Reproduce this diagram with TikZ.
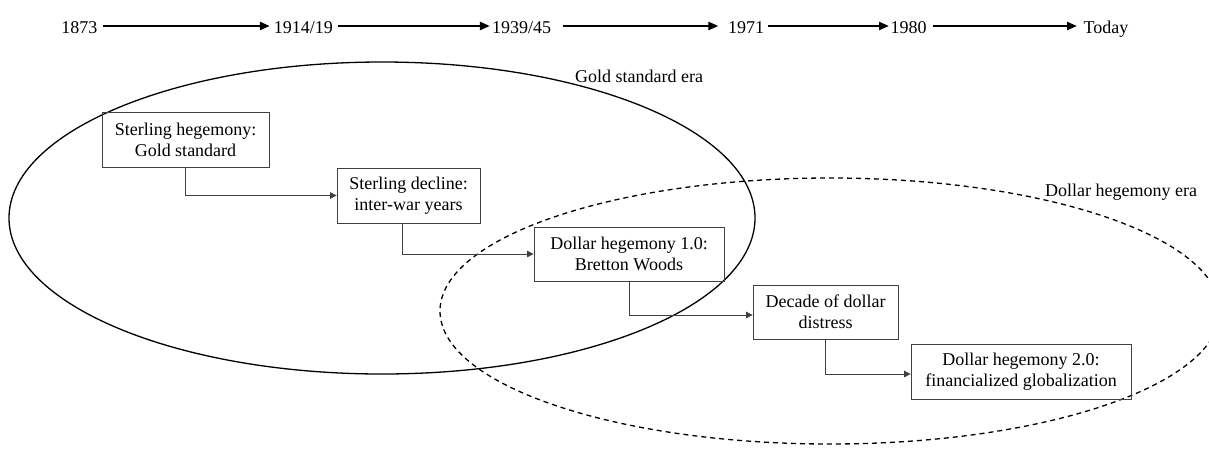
\documentclass[tikz,border=0pt]{standalone}
\usepackage{fontspec}
\setmainfont{Liberation Serif}
\usetikzlibrary{arrows.meta}
\begin{document}
\begin{tikzpicture}[x=1pt, y=-1pt,
  every node/.style={font=\fontsize{18}{20.7}\selectfont},
  yearlabel/.style={inner sep=0pt, anchor=base west},
  eralabel/.style={inner sep=0pt, anchor=base west},
  timeline/.style={line width=2.4pt, -{Triangle[length=10pt,width=8pt]}},
  stagebox/.style={draw=black!75, line width=0.8pt, align=center, inner sep=2pt},
  link/.style={draw=black!75, line width=0.8pt, -{Triangle[length=6.5pt,width=6.5pt]}},
  era/.style={line width=1.3pt},
]
\useasboundingbox (0,0) rectangle (1209,448);
\clip (0,0) rectangle (1209,448);

% era ellipses
\draw[era] (382,218) ellipse [x radius=373pt, y radius=156pt];
\draw[era, dash pattern=on 5pt off 4pt] (830,311) ellipse [x radius=390pt, y radius=133pt];

\node[eralabel] (gold) at (575,82) {Gold standard era};
\node[eralabel] (dollar) at (1045,196) {Dollar hegemony era};

% timeline
\coordinate (tl) at (0,26);
\node[yearlabel] (t1) at (61.2,33.5) {1873};
\node[yearlabel] (t2) at (273.6,33.5) {1914/19};
\node[yearlabel] (t3) at (491.8,33.5) {1939/45};
\node[yearlabel] (t4) at (728,33.5) {1971};
\node[yearlabel] (t5) at (890.5,33.5) {1980};
\node[yearlabel] (t6) at (1083.5,33.5) {Today};

\draw[timeline, shorten <=5.4pt, shorten >=3.8pt] (t1.east |- tl) -- (t2.west |- tl);
\draw[timeline, shorten <=5.4pt, shorten >=1.9pt] (t2.east |- tl) -- (t3.west |- tl);
\draw[timeline, shorten <=11.8pt, shorten >=9.6pt] (t3.east |- tl) -- (t4.west |- tl);
\draw[timeline, shorten <=3.8pt, shorten >=1.5pt] (t4.east |- tl) -- (t5.west |- tl);
\draw[timeline, shorten <=6.3pt, shorten >=6.5pt] (t5.east |- tl) -- (t6.west |- tl);

% stages
\node[stagebox, minimum width=167pt, minimum height=55pt] (b1) at (185.5,139.5)
  {Sterling hegemony:\\Gold standard};
\node[stagebox, minimum width=143pt, minimum height=55pt] (b2) at (408.5,195.5)
  {Sterling decline:\\inter-war years};
\node[stagebox, minimum width=190pt, minimum height=54pt] (b3) at (629,254)
  {Dollar hegemony 1.0:\\Bretton Woods};
\node[stagebox, minimum width=145pt, minimum height=54pt] (b4) at (825.5,312)
  {Decade of dollar\\distress};
\node[stagebox, minimum width=220pt, minimum height=55pt] (b5) at (1021,371.5)
  {Dollar hegemony 2.0:\\financialized globalization};

\draw[link] (b1.south) |- (b2.west);
\draw[link] ([xshift=-6pt]b2.south) |- (b3.west);
\draw[link] (b3.south) |- ([yshift=-3pt]b4.west);
\draw[link] (b4.south) |- ([yshift=-2.5pt]b5.west);
\end{tikzpicture}
\end{document}
